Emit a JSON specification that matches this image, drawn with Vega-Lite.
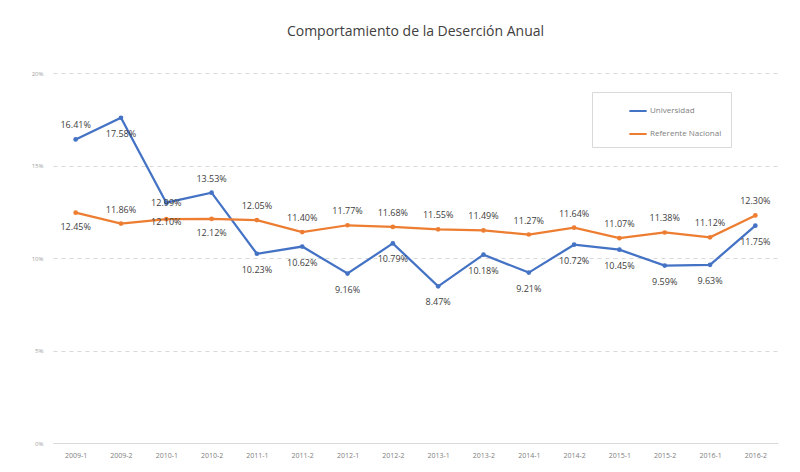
{
  "$schema": "https://vega.github.io/schema/vega-lite/v6.json",
  "autosize": "none",
  "width": 725,
  "height": 370,
  "padding": {"left": 53, "top": 73, "right": 22, "bottom": 29},
  "background": "white",
  "title": {"text": "Comportamiento  de la Deserción Anual", "fontSize": 14, "font": "Open Sans", "fontWeight": "normal", "color": "#404040", "offset": 31, "anchor": "middle"},
  "config": {"view": {"stroke": null}, "font": "Open Sans"},
  "data": {"values": [
    {"periodo": "2009-1", "serie": "Universidad", "tasa": 0.1641},
    {"periodo": "2009-2", "serie": "Universidad", "tasa": 0.1758},
    {"periodo": "2010-1", "serie": "Universidad", "tasa": 0.1299},
    {"periodo": "2010-2", "serie": "Universidad", "tasa": 0.1353},
    {"periodo": "2011-1", "serie": "Universidad", "tasa": 0.1023},
    {"periodo": "2011-2", "serie": "Universidad", "tasa": 0.1062},
    {"periodo": "2012-1", "serie": "Universidad", "tasa": 0.0916},
    {"periodo": "2012-2", "serie": "Universidad", "tasa": 0.1079},
    {"periodo": "2013-1", "serie": "Universidad", "tasa": 0.0847},
    {"periodo": "2013-2", "serie": "Universidad", "tasa": 0.1018},
    {"periodo": "2014-1", "serie": "Universidad", "tasa": 0.0921},
    {"periodo": "2014-2", "serie": "Universidad", "tasa": 0.1072},
    {"periodo": "2015-1", "serie": "Universidad", "tasa": 0.1045},
    {"periodo": "2015-2", "serie": "Universidad", "tasa": 0.0959},
    {"periodo": "2016-1", "serie": "Universidad", "tasa": 0.0963},
    {"periodo": "2016-2", "serie": "Universidad", "tasa": 0.1175},
    {"periodo": "2009-1", "serie": "Referente Nacional", "tasa": 0.1245},
    {"periodo": "2009-2", "serie": "Referente Nacional", "tasa": 0.1186},
    {"periodo": "2010-1", "serie": "Referente Nacional", "tasa": 0.1210},
    {"periodo": "2010-2", "serie": "Referente Nacional", "tasa": 0.1212},
    {"periodo": "2011-1", "serie": "Referente Nacional", "tasa": 0.1205},
    {"periodo": "2011-2", "serie": "Referente Nacional", "tasa": 0.1140},
    {"periodo": "2012-1", "serie": "Referente Nacional", "tasa": 0.1177},
    {"periodo": "2012-2", "serie": "Referente Nacional", "tasa": 0.1168},
    {"periodo": "2013-1", "serie": "Referente Nacional", "tasa": 0.1155},
    {"periodo": "2013-2", "serie": "Referente Nacional", "tasa": 0.1149},
    {"periodo": "2014-1", "serie": "Referente Nacional", "tasa": 0.1127},
    {"periodo": "2014-2", "serie": "Referente Nacional", "tasa": 0.1164},
    {"periodo": "2015-1", "serie": "Referente Nacional", "tasa": 0.1107},
    {"periodo": "2015-2", "serie": "Referente Nacional", "tasa": 0.1138},
    {"periodo": "2016-1", "serie": "Referente Nacional", "tasa": 0.1112},
    {"periodo": "2016-2", "serie": "Referente Nacional", "tasa": 0.1230}
  ]},
  "encoding": {
    "x": {"field": "periodo", "type": "ordinal", "sort": null, "scale": {"type": "point", "padding": 0.5},
      "axis": {"title": null, "labelAngle": 0, "labelFontSize": 7, "labelColor": "#808080", "ticks": false, "domainColor": "#d9d9d9", "labelPadding": 8, "grid": false}},
    "y": {"field": "tasa", "type": "quantitative", "scale": {"domain": [0, 0.2]},
      "axis": {"title": null, "values": [0, 0.05, 0.1, 0.15, 0.2], "format": ".0%", "labelFontSize": 6, "labelColor": "#a0a0a0", "ticks": false, "domain": false, "gridDash": [4, 4], "gridColor": "#d9d9d9", "labelPadding": 10}},
    "color": {"field": "serie", "type": "nominal", "sort": ["Universidad", "Referente Nacional"],
      "scale": {"domain": ["Universidad", "Referente Nacional"], "range": ["#4472C4", "#ED7D31"]},
      "legend": {"title": null, "orient": "none", "legendX": 539, "legendY": 19, "symbolType": "stroke", "symbolStrokeWidth": 2, "symbolSize": 300, "labelFontSize": 8, "labelColor": "#808080", "strokeColor": "#d9d9d9", "fillColor": "white", "padding": 9, "rowPadding": 9, "symbolOffset": 27, "labelOffset": 2}}
  },
  "layer": [
    {"mark": {"type": "line", "strokeWidth": 2.25, "point": {"filled": true, "size": 22}}},
    {"transform": [{"filter": {"and": [{"field": "serie", "equal": "Universidad"}, {"field": "periodo", "oneOf": ["2009-1", "2010-2"]}]}}],
      "mark": {"type": "text", "dy": -14, "fontSize": 9, "color": "#404040"},
      "encoding": {"text": {"field": "tasa", "format": ".2%"}, "color": {"value": "#404040"}}},
    {"transform": [{"filter": {"and": [{"field": "serie", "equal": "Universidad"}, {"field": "periodo", "oneOf": ["2010-1"]}]}}],
      "mark": {"type": "text", "dy": 0, "fontSize": 9, "color": "#404040"},
      "encoding": {"text": {"field": "tasa", "format": ".2%"}, "color": {"value": "#404040"}}},
    {"transform": [{"filter": {"and": [{"field": "serie", "equal": "Universidad"}, {"not": {"field": "periodo", "oneOf": ["2009-1", "2010-2", "2010-1"]}}]}}],
      "mark": {"type": "text", "dy": 16, "fontSize": 9, "color": "#404040"},
      "encoding": {"text": {"field": "tasa", "format": ".2%"}, "color": {"value": "#404040"}}},
    {"transform": [{"filter": {"and": [{"field": "serie", "equal": "Referente Nacional"}, {"field": "periodo", "oneOf": ["2009-1", "2010-2"]}]}}],
      "mark": {"type": "text", "dy": 14, "fontSize": 9, "color": "#404040"},
      "encoding": {"text": {"field": "tasa", "format": ".2%"}, "color": {"value": "#404040"}}},
    {"transform": [{"filter": {"and": [{"field": "serie", "equal": "Referente Nacional"}, {"field": "periodo", "oneOf": ["2010-1"]}]}}],
      "mark": {"type": "text", "dy": 3, "fontSize": 9, "color": "#404040"},
      "encoding": {"text": {"field": "tasa", "format": ".2%"}, "color": {"value": "#404040"}}},
    {"transform": [{"filter": {"and": [{"field": "serie", "equal": "Referente Nacional"}, {"not": {"field": "periodo", "oneOf": ["2009-1", "2010-2", "2010-1"]}}]}}],
      "mark": {"type": "text", "dy": -14, "fontSize": 9, "color": "#404040"},
      "encoding": {"text": {"field": "tasa", "format": ".2%"}, "color": {"value": "#404040"}}}
  ]
}
